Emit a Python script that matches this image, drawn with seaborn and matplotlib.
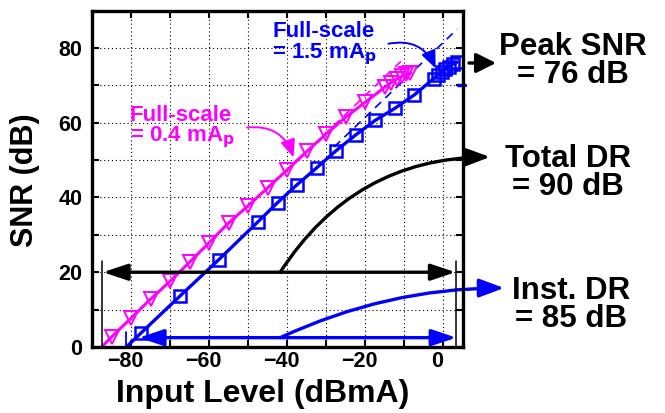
import matplotlib
matplotlib.use("Agg")
import matplotlib.pyplot as plt
import matplotlib.transforms as mtransforms
import seaborn as sns
import numpy as np

# ---------------- data ----------------
blue_x = [-77.5, -67.5, -57.5, -47.5, -42.5, -37.5, -32.5, -27.5, -22.5, -17.5,
          -12.5, -7.5, -2.5, -1.5, -0.5, 0.5, 1.5, 2.5, 3.5]
blue_y = [3.7, 13.6, 23.4, 33.5, 38.6, 43.4, 47.9, 52.5, 56.7, 60.6,
          63.8, 67.4, 71.8, 72.8, 73.5, 74.3, 75.0, 75.7, 76.2]
blue_line_start = (-81.2, 0.0)

magenta_x = [-85, -80, -75, -70, -65, -60, -55, -50, -45, -40, -35, -30, -25,
             -20, -15, -13.5, -12, -10.5, -9.5, -8.5]
magenta_y = [2.7, 7.7, 12.8, 17.6, 22.7, 27.9, 33.2, 37.8, 42.6, 47.4, 52.3,
             57.0, 61.5, 65.5, 69.5, 70.7, 71.6, 72.5, 73.0, 73.3]
magenta_line_start = (-87.5, 0.0)

# ideal (slope-1) dashed reference lines
blue_ideal_x = [-28.0, 3.5]
blue_ideal_offset = 81.5
magenta_ideal_x = [-36.0, -10.0]
magenta_ideal_offset = 87.3

# dynamic-range markers
total_dr_y = 20.0
total_dr_x = [-87.2, 3.1]
total_dr_bounds_x = [-87.5, 3.3]
total_dr_bound_top = 23.0
inst_dr_y = 2.5
inst_dr_x = [-78.0, 3.3]
inst_dr_tick_x = -81.2
inst_dr_tick_top = 4.0

x_ticks = [-80, -60, -40, -20, 0]
y_ticks = [0, 20, 40, 60, 80]

BLUE = "#0000FF"
MAGENTA = "#FF00FF"

# ---------------- style ----------------
sns.set_style("ticks")
plt.rcParams["font.family"] = ["Liberation Sans", "DejaVu Sans"]
plt.rcParams["font.weight"] = "bold"
plt.rcParams["axes.labelweight"] = "bold"
plt.rcParams["text.color"] = "black"
plt.rcParams["axes.labelcolor"] = "black"
plt.rcParams["xtick.color"] = "black"
plt.rcParams["ytick.color"] = "black"

W, H = 665, 413
fig = plt.figure(figsize=(W / 100, H / 100), dpi=100)
ax = fig.add_axes([92 / W, 1 - 347 / H, (463 - 92) / W, (347 - 10.5) / H])

def fp(x, y):
    return (x / W, 1 - y / H)

# ---------------- lines ----------------
sns.lineplot(x=[magenta_line_start[0]] + magenta_x, y=[magenta_line_start[1]] + magenta_y,
             sort=False, estimator=None, color=MAGENTA, lw=2.2, ax=ax, zorder=3)
sns.lineplot(x=[blue_line_start[0]] + blue_x, y=[blue_line_start[1]] + blue_y,
             sort=False, estimator=None, color=BLUE, lw=2.4, ax=ax, zorder=4)

ax.plot(magenta_x, magenta_y, linestyle="none", marker="v", ms=9.5, mfc="none",
        mec=MAGENTA, mew=1.4, zorder=3)
ax.plot(blue_x, blue_y, linestyle="none", marker="s", ms=8.5, mfc="none",
        mec=BLUE, mew=1.8, zorder=4)

bx = np.array(blue_ideal_x)
ax.plot(bx, bx + blue_ideal_offset, color=BLUE, lw=1.2, ls=(0, (5, 3.5)), zorder=2)
mx = np.array(magenta_ideal_x)
ax.plot(mx, mx + magenta_ideal_offset, color=MAGENTA, lw=1.2, ls=(0, (5, 3.5)), zorder=2)

# small blue dash on the right spine
ax.plot([3.7, 5.4], [70, 70], color=BLUE, lw=2.5, clip_on=False, zorder=5)

# ---------------- DR arrows ----------------
for xb in total_dr_bounds_x:
    ax.plot([xb, xb], [0, total_dr_bound_top], color="black", lw=1.1, zorder=5)
ax.plot([inst_dr_tick_x, inst_dr_tick_x], [0, inst_dr_tick_top], color=BLUE, lw=1.3, zorder=5)

ax.annotate("", xy=(total_dr_x[1], total_dr_y), xytext=(total_dr_x[0], total_dr_y),
            arrowprops=dict(arrowstyle="<|-|>,head_length=0.75,head_width=0.25",
                            color="black", lw=2.4, mutation_scale=20,
                            shrinkA=0, shrinkB=0), zorder=6)
ax.annotate("", xy=(inst_dr_x[1], inst_dr_y), xytext=(inst_dr_x[0], inst_dr_y),
            arrowprops=dict(arrowstyle="<|-|>,head_length=0.75,head_width=0.25",
                            color=BLUE, lw=2.4, mutation_scale=20,
                            shrinkA=0, shrinkB=0), zorder=6)

# curved arrows to the right-hand labels
ax.annotate("", xy=fp(490, 157), xycoords="figure fraction",
            xytext=(-41.8, total_dr_y), textcoords="data",
            arrowprops=dict(arrowstyle="-|>,head_length=0.75,head_width=0.28",
                            connectionstyle="arc3,rad=-0.27", color="black", lw=2.4,
                            mutation_scale=20, shrinkA=0, shrinkB=0),
            annotation_clip=False)
ax.annotate("", xy=fp(504, 288), xycoords="figure fraction",
            xytext=(-41.8, inst_dr_y), textcoords="data",
            arrowprops=dict(arrowstyle="-|>,head_length=0.75,head_width=0.28",
                            connectionstyle="arc3,rad=-0.11", color=BLUE, lw=2.4,
                            mutation_scale=20, shrinkA=0, shrinkB=0),
            annotation_clip=False)
ax.annotate("", xy=fp(496, 63), xycoords="figure fraction",
            xytext=fp(469, 63), textcoords="figure fraction",
            arrowprops=dict(arrowstyle="-|>,head_length=0.6,head_width=0.3",
                            color="black", lw=2.4, mutation_scale=20,
                            shrinkA=0, shrinkB=0),
            annotation_clip=False)

# full-scale annotation arrows
ax.annotate("", xy=(-2.0, 74.5), xytext=(-14.1, 81.1),
            arrowprops=dict(arrowstyle="-|>,head_length=0.6,head_width=0.25",
                            connectionstyle="arc3,rad=-0.4", color=BLUE, lw=1.4,
                            mutation_scale=18, shrinkA=0, shrinkB=0))
ax.annotate("", xy=(-38.4, 50.7), xytext=(-50.3, 58.7),
            arrowprops=dict(arrowstyle="-|>,head_length=0.6,head_width=0.25",
                            connectionstyle="arc3,rad=-0.4", color=MAGENTA, lw=1.4,
                            mutation_scale=18, shrinkA=0, shrinkB=0))

# ---------------- texts ----------------
ax.text(-43.8, 81.0, "Full-scale\n= 1.5 mA$_\\mathbf{p}$", color=BLUE, fontsize=16,
        fontweight="bold", ha="left", va="center", linespacing=0.92)
ax.text(-80.3, 58.7, "Full-scale\n= 0.4 mA$_\\mathbf{p}$", color=MAGENTA, fontsize=16,
        fontweight="bold", ha="left", va="center", linespacing=0.92)

for (txt, x, y) in [("Peak SNR\n= 76 dB", 573, 61),
                    ("Total DR\n= 90 dB", 568, 173),
                    ("Inst. DR\n= 85 dB", 571, 305)]:
    fig.text(*fp(x, y), txt, fontsize=22.5, fontweight="bold", ha="center", va="center",
             multialignment="center", linespacing=0.92)

# ---------------- axes ----------------
ax.set_xlim(-90, 5)
ax.set_ylim(0, 90)
ax.set_xticks(np.arange(-90, 6, 10))
ax.set_yticks(np.arange(0, 91, 10))
ax.set_xticklabels([("\u2212%d" % abs(v) if v < 0 else "%d" % v) if v in x_ticks else ""
                    for v in np.arange(-90, 6, 10)])
ax.set_yticklabels([("%d" % v) if v in y_ticks else "" for v in np.arange(0, 91, 10)])
ax.tick_params(axis="both", direction="in", length=5, width=1.5, top=True, right=True,
               labelsize=15.5, colors="black")
ax.tick_params(axis="x", pad=3)
ax.tick_params(axis="y", pad=7)
offset = mtransforms.ScaledTranslation(-6 / 100, 0, fig.dpi_scale_trans)
for lbl in ax.get_xticklabels():
    lbl.set_transform(lbl.get_transform() + offset)
    lbl.set_fontweight("bold")
for lbl in ax.get_yticklabels():
    lbl.set_fontweight("bold")

ax.grid(True, color="black", linestyle=(0, (1, 2.5)), linewidth=0.8)
for s in ax.spines.values():
    s.set_linewidth(2.4)
    s.set_color("black")
    s.set_zorder(7)

ax.set_xlabel("")
ax.set_ylabel("")
fig.text(*fp(263, 394), "Input Level (dBmA)", fontsize=23, fontweight="bold",
         ha="center", va="center")
fig.text(*fp(25, 180), "SNR (dB)", fontsize=22, fontweight="bold", rotation=90,
         ha="center", va="center")

fig.savefig("out.png", dpi=100)
